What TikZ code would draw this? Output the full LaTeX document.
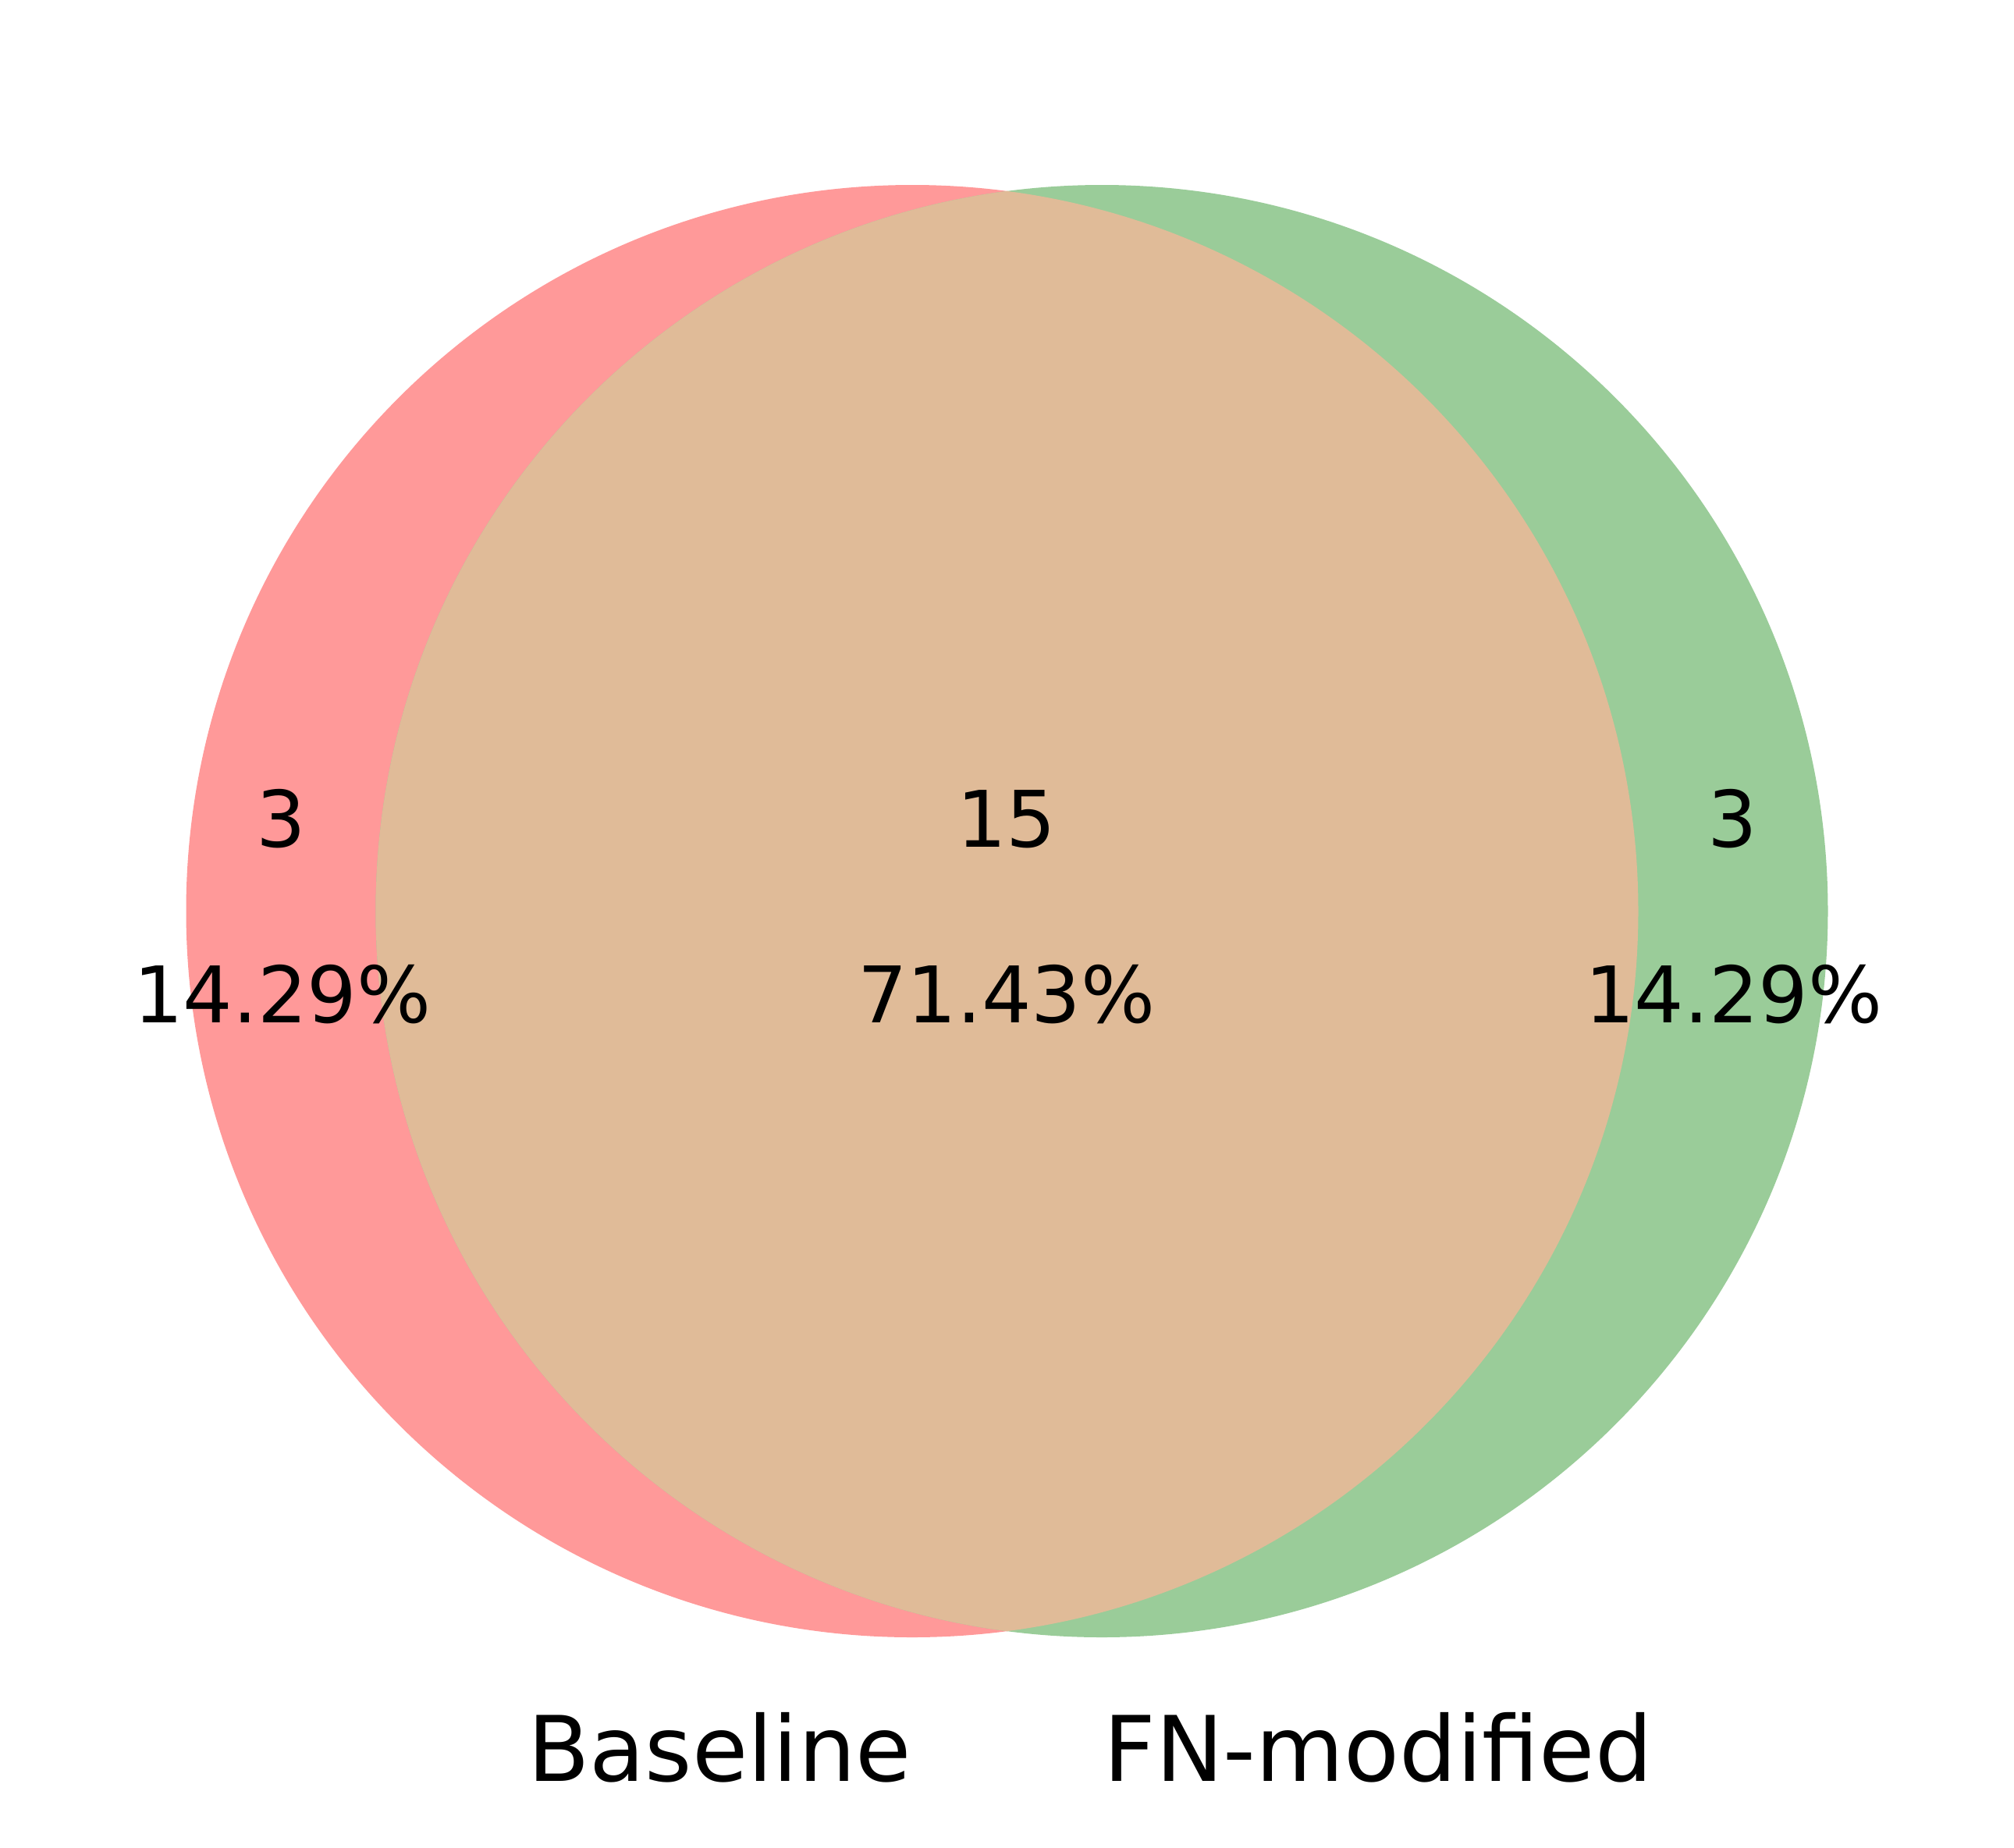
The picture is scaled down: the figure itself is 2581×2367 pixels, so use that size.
\documentclass[tikz,border=0pt]{standalone}
\usepackage{fontspec}
\setmainfont{DejaVu Sans}
\definecolor{vred}{RGB}{255,153,153}
\definecolor{vgreen}{RGB}{154,204,153}
\definecolor{vmix}{RGB}{224,187,152}
\tikzset{
  num/.style={anchor=base, inner sep=0pt, font=\fontsize{100}{120}\selectfont},
  setlab/.style={anchor=base, inner sep=0pt, font=\fontsize{116}{139}\selectfont}
}
\begin{document}
\begin{tikzpicture}[x=1pt,y=-1pt]
\useasboundingbox[fill=white] (0,0) rectangle (2581,2367);
\coordinate (cA) at (1169,1167.5);
\coordinate (cB) at (1412,1167.5);
\fill[vred] (cA) circle[radius=930.5pt];
\fill[vgreen] (cB) circle[radius=930.5pt];
\begin{scope}
  \clip (cA) circle[radius=930.5pt];
  \fill[vmix] (cB) circle[radius=930.5pt];
\end{scope}
\node[num] (n10) at (360,1085) {3};
\node[num] (p10) at (362,1310) {14.29\%};
\node[num] (n11) at (1290,1085) {15};
\node[num] (p11) at (1290,1310) {71.43\%};
\node[num] (n01) at (2220,1085) {3};
\node[num] (p01) at (2222,1310) {14.29\%};
\node[setlab] (la) at (922,2282) {Baseline};
\node[setlab] (lb) at (1766,2282) {FN-modified};
\end{tikzpicture}
\end{document}
